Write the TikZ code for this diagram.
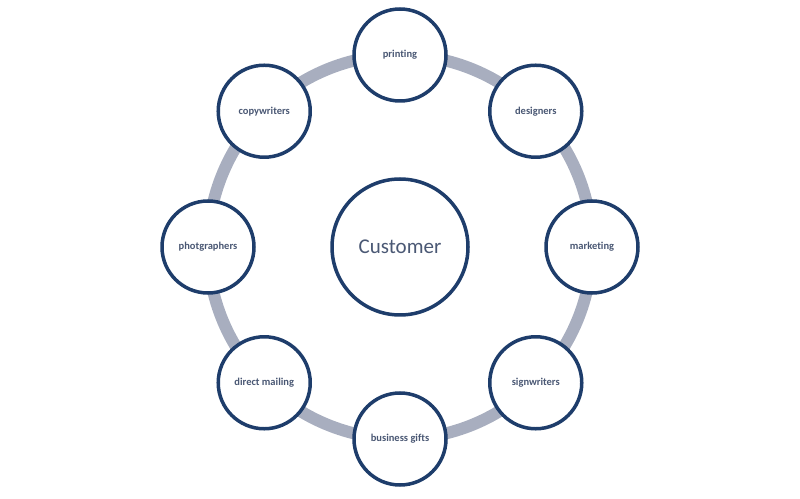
\documentclass[tikz,border=0pt]{standalone}
\usepackage{fontspec}
\setmainfont[Ligatures=NoCommon]{Carlito}
\usetikzlibrary{backgrounds,calc}
\definecolor{ringgray}{RGB}{168,174,191}
\definecolor{rimblue}{RGB}{30,61,107}
\definecolor{labelblue}{RGB}{74,88,116}

\begin{document}
\begin{tikzpicture}[x=1pt,y=1pt]
  \tikzset{party/.style={circle,draw=rimblue,line width=3.5pt,fill=white,
                         minimum size=92pt,inner sep=0pt,text=labelblue,
                         font=\fontsize{10.5}{12}\selectfont\bfseries},
           hub/.style={party,minimum size=136pt,
                       font=\fontsize{21}{24}\selectfont},
           ring/.style={draw=ringgray,line width=12pt}}
  \useasboundingbox (0,0) rectangle (800,498);
  \node[hub] (customer) at (400,251) {Customer};
  \foreach \nm/\txt/\ang in {printing/printing/90, designers/designers/45,
                             marketing/marketing/0, signwriters/signwriters/-45,
                             gifts/business gifts/-90, mailing/direct mailing/-135,
                             photo/photgraphers/180, copy/copywriters/135}
    \node[party] (\nm) at ($(customer)+(\ang:192)$) {\txt};
  \begin{pgfonlayer}{background}
    \foreach \a/\b in {printing/designers, designers/marketing, marketing/signwriters,
                       signwriters/gifts, gifts/mailing, mailing/photo,
                       photo/copy, copy/printing}
      \draw[ring] (\a.center) to[bend left=22.5,looseness=0.885] (\b.center);
  \end{pgfonlayer}
\end{tikzpicture}
\end{document}
